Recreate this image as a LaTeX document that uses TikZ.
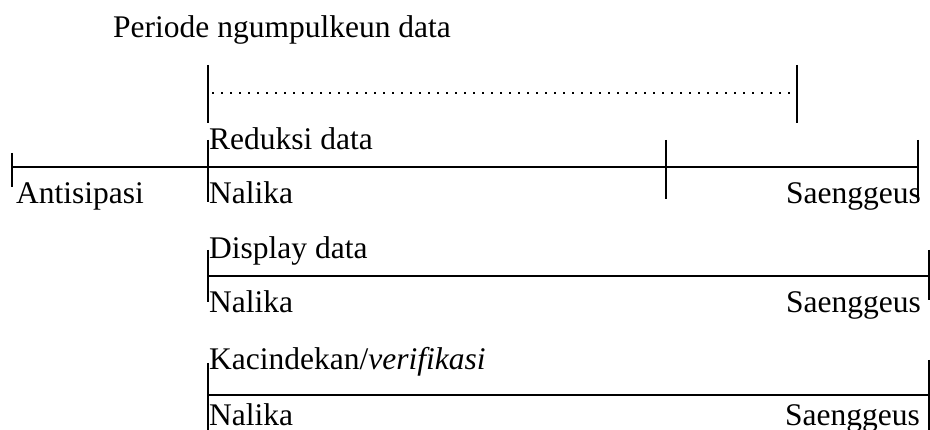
\documentclass[tikz,border=0pt]{standalone}
\usepackage{fontspec}
\setmainfont{Liberation Serif}
\begin{document}
\begin{tikzpicture}[x=1pt,y=-1pt,
  lbl/.style={inner sep=0pt,font=\fontsize{31.5}{38}\selectfont},
  tl/.style={line width=2pt},
  dotline/.style={line width=2pt,dash pattern=on 2pt off 7pt}]
\useasboundingbox (0,0) rectangle (930,430);
% title
\node[lbl,anchor=base west] (title) at (113,38) {Periode ngumpulkeun data};
% data collection period
\coordinate (pA) at (208,93);
\coordinate (pB) at (797,93);
\coordinate (pAt) at (208,65); \coordinate (pAb) at (208,123);
\coordinate (pBt) at (797,65); \coordinate (pBb) at (797,123);
\draw[tl] (pAt) -- (pAb);
\draw[tl] (pBt) -- (pBb);
\draw[dotline] ([xshift=4pt]pA) -- (pB);
% row 1
\coordinate (r1a) at (12,167.5);
\coordinate (r1e) at (918,167.5);
\draw[tl] (r1a) -- (r1e);
\coordinate (t1at) at (12,153); \coordinate (t1ab) at (12,187);
\coordinate (t1bt) at (208,140); \coordinate (t1bb) at (208,202);
\coordinate (t1ct) at (666,140); \coordinate (t1cb) at (666,199);
\coordinate (t1dt) at (918,140); \coordinate (t1db) at (918,202);
\draw[tl] (t1at) -- (t1ab);
\draw[tl] (t1bt) -- (t1bb);
\draw[tl] (t1ct) -- (t1cb);
\draw[tl] (t1dt) -- (t1db);
\node[lbl,anchor=base west] (antis) at (16,204) {Antisipasi};
\node[lbl,anchor=base west] (red) at (209,150) {Reduksi data};
\node[lbl,anchor=base west] (nal1) at (209,204) {Nalika};
\node[lbl,anchor=base east] (sae1) at (921,204) {Saenggeus};
% row 2
\coordinate (r2a) at (208,276.5);
\coordinate (r2e) at (929,276.5);
\draw[tl] (r2a) -- (r2e);
\coordinate (t2at) at (208,250); \coordinate (t2ab) at (208,302);
\coordinate (t2bt) at (929,250); \coordinate (t2bb) at (929,300);
\draw[tl] (t2at) -- (t2ab);
\draw[tl] (t2bt) -- (t2bb);
\node[lbl,anchor=base west] (disp) at (209,259) {Display data};
\node[lbl,anchor=base west] (nal2) at (209,313) {Nalika};
\node[lbl,anchor=base east] (sae2) at (921,313) {Saenggeus};
% row 3
\coordinate (r3a) at (208,395);
\coordinate (r3e) at (929,395);
\draw[tl] (r3a) -- (r3e);
\coordinate (t3at) at (208,363); \coordinate (t3ab) at (208,431);
\coordinate (t3bt) at (929,360); \coordinate (t3bb) at (929,431);
\draw[tl] (t3at) -- (t3ab);
\draw[tl] (t3bt) -- (t3bb);
\node[lbl,anchor=base west] (kac) at (209,370) {Kacindekan/\textit{verifikasi}};
\node[lbl,anchor=base west] (nal3) at (209,426) {Nalika};
\node[lbl,anchor=base east] (sae3) at (920,426) {Saenggeus};
\end{tikzpicture}
\end{document}
